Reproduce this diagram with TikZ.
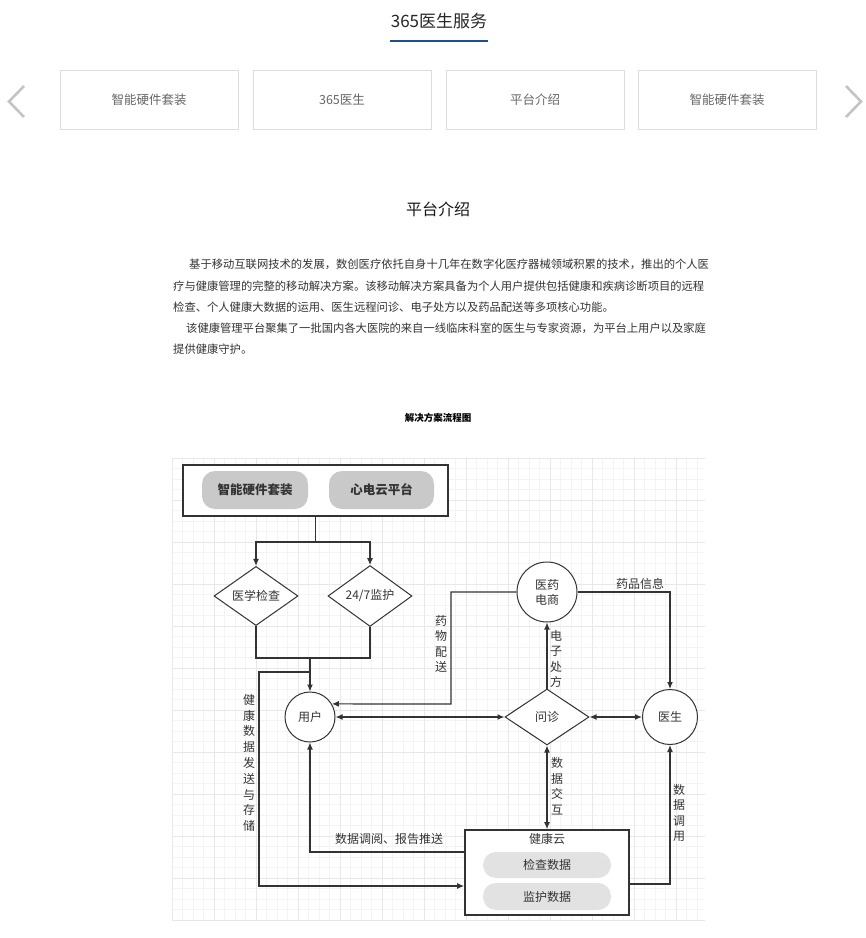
\documentclass[tikz,border=0pt]{standalone}
\usepackage{fontspec}
\setmainfont{Noto Sans CJK SC}
\XeTeXlinebreaklocale "zh"
\XeTeXlinebreakskip=0pt plus 1pt
\usetikzlibrary{arrows.meta,shapes.geometric}
\definecolor{ink}{HTML}{333333}
\definecolor{tabline}{HTML}{DDDDDD}
\definecolor{tabtext}{HTML}{666666}
\definecolor{chevron}{HTML}{C4C4C4}
\definecolor{navy}{HTML}{1D4F91}
\definecolor{pilldark}{HTML}{C9C9C9}
\definecolor{pilllight}{HTML}{E2E2E2}
\definecolor{gridminor}{HTML}{F4F4F4}
\definecolor{gridmajor}{HTML}{E8E8E8}
\begin{document}
\begin{tikzpicture}[x=1pt, y=-1pt, >={Latex[length=7pt,width=6pt]},
  tab/.style={draw=tabline, minimum width=178pt, minimum height=59pt, text=tabtext, font=\fontsize{12.5}{15}\selectfont},
  bodyline/.style={anchor=west, inner sep=0pt, text=ink, font=\fontsize{11.3}{14}\selectfont},
  pill/.style={rounded corners=13pt, inner sep=0pt, text=ink, font=\fontsize{12.5}{15}\selectfont\bfseries},
  decision/.style={diamond, draw=ink, line width=1pt, minimum width=84pt, minimum height=56pt, inner sep=0pt, text=ink, font=\fontsize{12}{15}\selectfont},
  party/.style={circle, draw=ink, line width=1pt, inner sep=0pt, text=ink, align=center, font=\fontsize{12}{15}\selectfont},
  vlabel/.style={align=center, inner sep=0pt, text=ink, font=\fontsize{12}{15.5}\selectfont},
  hlabel/.style={inner sep=0pt, text=ink, font=\fontsize{12}{15}\selectfont},
  link/.style={draw=ink, line width=1.2pt}]
\useasboundingbox[fill=white] (0,0) rectangle (866,938);

\node[text=black!85, font=\fontsize{17}{20}\selectfont] (title) at (439,21) {365医生服务};
\draw[navy, line width=1.6pt] (390,41) -- (488,41);

\node[tab] (tab1) at (149,99.5) {智能硬件套装};
\node[tab] (tab2) at (342,99.5) {365医生};
\node[tab] (tab3) at (535,99.5) {平台介绍};
\node[tab] (tab4) at (727,99.5) {智能硬件套装};
\draw[chevron, line width=2.6pt] (24,86) -- (9,101.5) -- (24,117);
\draw[chevron, line width=2.6pt] (846,86) -- (861,101.5) -- (846,117);

\node[text=black!90, font=\fontsize{16}{19}\selectfont] (intro) at (438,209) {平台介绍};

\node[bodyline] (p1) at (189,264) {\makebox[516pt][s]{基于移动互联网技术的发展，数创医疗依托自身十几年在数字化医疗器械领域积累的技术，推出的个人医}};
\node[bodyline] (p2) at (173,286) {\makebox[532pt][s]{疗与健康管理的完整的移动解决方案。该移动解决方案具备为个人用户提供包括健康和疾病诊断项目的远程}};
\node[bodyline] (p3) at (173,307) {检查、个人健康大数据的运用、医生远程问诊、电子处方以及药品配送等多项核心功能。};
\node[bodyline] (p4) at (186,328) {\makebox[519pt][s]{该健康管理平台聚集了一批国内各大医院的来自一线临床科室的医生与专家资源，为平台上用户以及家庭}};
\node[bodyline] (p5) at (173,349) {提供健康守护。};

\node[text=black, font=\fontsize{9.5}{11}\selectfont\bfseries] (chart) at (438,418) {解决方案流程图};

% grid paper
\foreach \x in {172,182.5,...,706} \draw[gridminor, line width=0.6pt] (\x,458) -- (\x,921);
\foreach \y in {458,468.5,...,922} \draw[gridminor, line width=0.6pt] (172,\y) -- (705,\y);
\foreach \x in {172,214,...,706} \draw[gridmajor, line width=0.8pt] (\x,458) -- (\x,921);
\foreach \y in {458,500,...,922} \draw[gridmajor, line width=0.8pt] (172,\y) -- (705,\y);

\node[draw=ink, fill=white, line width=1.6pt, minimum width=265pt, minimum height=51pt] (topbox) at (315.5,490.5) {};
\node[pill, fill=pilldark, minimum width=106pt, minimum height=38pt] (hw) at (255,490) {智能硬件套装};
\node[pill, fill=pilldark, minimum width=105pt, minimum height=38pt] (ecg) at (381.5,490) {心电云平台};

\node[decision, fill=white] (exam) at (256,596) {医学检查};
\node[decision, fill=white] (watch) at (370,596) {24/7监护};
\node[decision, fill=white] (consult) at (547,717) {问诊};

\node[party, fill=white, minimum size=50pt] (user) at (310,717) {用户};
\node[party, fill=white, minimum size=60pt] (pharm) at (547,592) {医药\\电商};
\node[party, fill=white, minimum size=55pt] (doctor) at (670,717) {医生};

\node[draw=ink, fill=white, line width=1.6pt, minimum width=164pt, minimum height=85pt] (cloud) at (547,872.5) {};
\node[hlabel] (cloudname) at (547,839) {健康云};
\node[pill, fill=pilllight, minimum width=128pt, minimum height=26pt, font=\fontsize{12}{15}\selectfont] (checkdata) at (547,865) {检查数据};
\node[pill, fill=pilllight, minimum width=128pt, minimum height=27pt, font=\fontsize{12}{15}\selectfont] (watchdata) at (547,896.5) {监护数据};

\coordinate (fork) at (315.5,542);
\coordinate (merge) at (310,658);
\coordinate (tap) at (310,672);
\coordinate (store) at (259,886);
\coordinate (drop) at (451,704);

\draw[link] (topbox.south) -- (fork);
\draw[link, ->] (fork) -| (exam.north);
\draw[link, ->] (fork) -| (watch.north);
\draw[link] (exam.south) |- (merge);
\draw[link] (watch.south) |- (merge);
\draw[link, ->] (merge) -- (user.north);
\draw[link, ->] (tap) -| (store) -- (cloud.west |- store);
\draw[link, ->] ([yshift=20.5pt]cloud.west) -| (user.south);
\draw[link, ->] (pharm.west) -| (drop) -- (user.31);
\draw[link, <->] (user.east) -- (consult.west);
\draw[link, <->] (consult.east) -- (doctor.west);
\draw[link, ->] (consult.north) -- (pharm.south);
\draw[link, ->] (pharm.east) -| (doctor.north);
\draw[link, <->] (consult.south) -- (cloud.north);
\draw[link, ->] ([yshift=-11.5pt]cloud.east) -| (doctor.south);

\node[vlabel] (lbldrug) at (441,644) {药\\物\\配\\送};
\node[vlabel] (lblrx) at (556,659) {电\\子\\处\\方};
\node[hlabel] (lblinfo) at (640,584) {药品信息};
\node[vlabel, font=\fontsize{12}{15.8}\selectfont] (lblstore) at (249,763) {健\\康\\数\\据\\发\\送\\与\\存\\储};
\node[hlabel] (lblpush) at (389,839) {数据调阅、报告推送};
\node[vlabel] (lblswap) at (557,786) {数\\据\\交\\互};
\node[vlabel] (lblcall) at (679,813) {数\\据\\调\\用};
\end{tikzpicture}
\end{document}
